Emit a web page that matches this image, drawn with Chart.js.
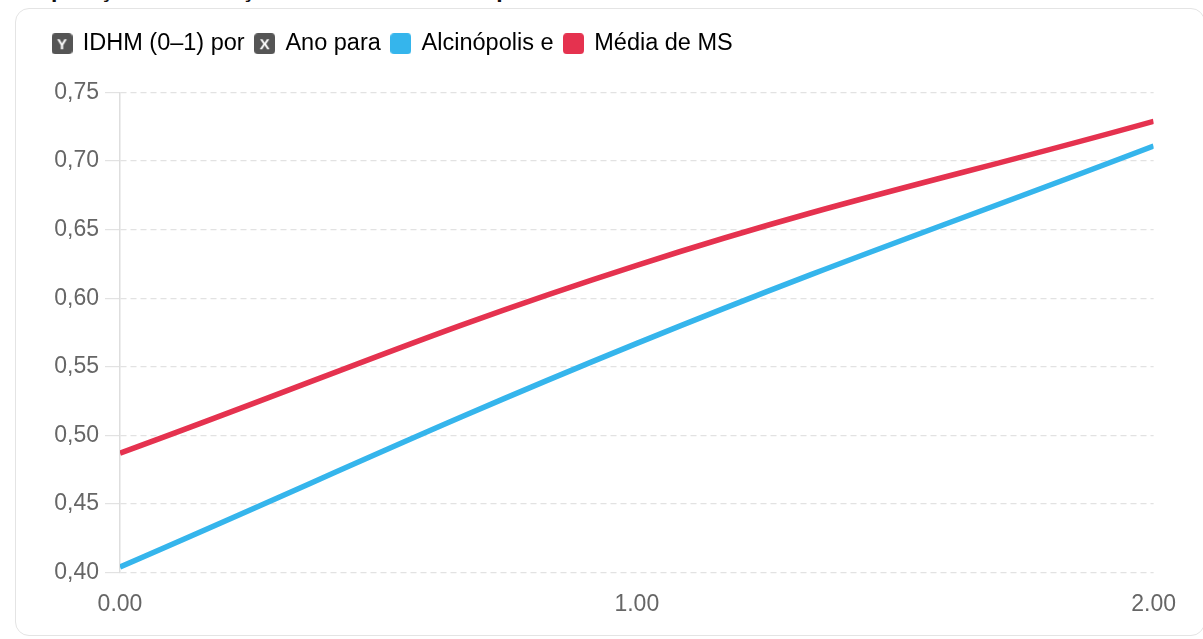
<!DOCTYPE html>
<html lang="pt-BR">
<head>
    <meta charset="UTF-8">
    <title>IDHM - Alcinópolis e MS</title>
    <script src="https://cdn.jsdelivr.net/npm/chart.js"></script>
    <style>
        body { margin: 0; background: #fff; overflow: hidden; }
        .chart-title {
            position: absolute; left: 0; top: -22px; margin: 0;
            font: bold 23px/23px "Liberation Sans", Arial, sans-serif;
            color: #111; white-space: nowrap;
        }
        .card {
            position: absolute; left: 15px; top: 8px; width: 1190px; height: 628px;
            border: 1px solid #e4e4e4; border-radius: 14px; box-sizing: border-box;
        }
        .chart-box { position: absolute; left: 30px; top: 21px; width: 1149px; height: 600px; }
    </style>
</head>
<body>
    <h2 class="chart-title">Comparação da Evolução do IDHM em Alcinópolis e na Média do Estado de MS</h2>
    <div class="card"></div>
    <div class="chart-box"><canvas id="idhmChart"></canvas></div>

    <script>
        // valores do IDHM por período (0, 1, 2)
        const periodos = [0, 1, 2];
        const idhmAlcinopolis = [0.404, 0.567, 0.711];
        const idhmMediaMS = [0.487, 0.624, 0.729];
        const legendaTextos = ['IDHM (0–1) por', 'Ano para', 'Alcinópolis e', 'Média de MS'];
        const yTicks = [0.40, 0.45, 0.50, 0.55, 0.60, 0.65, 0.70, 0.75];

        const corAzul = '#35b5ec';
        const corVermelha = '#e5324f';

        function iconeLegenda(cor, letra) {
            const c = document.createElement('canvas');
            c.width = 21; c.height = 21;
            const g = c.getContext('2d');
            g.fillStyle = cor;
            g.beginPath();
            g.roundRect(0, 0, 21, 21, 4);
            g.fill();
            if (letra) {
                g.fillStyle = '#fff';
                g.font = 'bold 15px "Liberation Sans", Arial, sans-serif';
                g.textAlign = 'center';
                g.textBaseline = 'middle';
                g.fillText(letra, 10.5, 11.5);
            }
            return c;
        }
        const icones = [iconeLegenda('#555', 'Y'), iconeLegenda('#555', 'X'), iconeLegenda(corAzul), iconeLegenda(corVermelha)];

        const fmtBR = new Intl.NumberFormat('pt-BR', { minimumFractionDigits: 2, maximumFractionDigits: 2 });

        // espaço extra abaixo da legenda
        const legendMargin = {
            id: 'legendMargin',
            beforeInit(chart) {
                const fit = chart.legend.fit;
                chart.legend.fit = function () {
                    fit.bind(chart.legend)();
                    this.height += 27;
                };
            }
        };

        const ctx = document.getElementById('idhmChart').getContext('2d');
        const idhmChart = new Chart(ctx, {
            type: 'line',
            data: {
                datasets: [
                    {
                        label: 'Alcinópolis',
                        data: periodos.map((p, i) => ({ x: p, y: idhmAlcinopolis[i] })),
                        borderColor: corAzul,
                        backgroundColor: corAzul,
                        borderWidth: 5.5,
                        pointRadius: 0,
                        tension: 0.4
                    },
                    {
                        label: 'Média de MS',
                        data: periodos.map((p, i) => ({ x: p, y: idhmMediaMS[i] })),
                        borderColor: corVermelha,
                        backgroundColor: corVermelha,
                        borderWidth: 5.5,
                        pointRadius: 0,
                        tension: 0.4
                    }
                ]
            },
            options: {
                responsive: true,
                maintainAspectRatio: false,
                animation: false,
                layout: { padding: { left: 12, right: 0, top: 0, bottom: 0 } },
                plugins: {
                    legend: {
                        display: true,
                        position: 'top',
                        align: 'start',
                        labels: {
                            usePointStyle: true,
                            pointStyleWidth: 18,
                            padding: 11,
                            color: '#3a3a3a',
                            font: { size: 23.5, family: '"Liberation Sans", Arial, sans-serif' },
                            generateLabels: () => legendaTextos.map((t, i) => ({
                                text: t,
                                pointStyle: icones[i],
                                fillStyle: 'transparent',
                                strokeStyle: 'transparent',
                                lineWidth: 0,
                                hidden: false,
                                datasetIndex: i >= 2 ? i - 2 : undefined
                            }))
                        }
                    },
                    tooltip: { enabled: false }
                },
                scales: {
                    x: {
                        type: 'linear',
                        min: 0,
                        max: 2,
                        grid: { display: false, drawTicks: true, tickLength: 15 },
                        border: { display: false },
                        ticks: {
                            stepSize: 1,
                            padding: 3,
                            color: '#666',
                            font: { size: 23 },
                            callback: v => Number(v).toFixed(2)
                        }
                    },
                    y: {
                        min: 0.40,
                        max: 0.75,
                        afterBuildTicks: scale => { scale.ticks = yTicks.map(v => ({ value: v })); },
                        afterFit: scale => { scale.width = 78; },
                        grid: { color: '#e2e2e2', lineWidth: 1.2, tickLength: 15 },
                        border: { display: true, color: '#dedede', width: 1.5, dash: [6, 4] },
                        ticks: {
                            padding: 6,
                            color: '#666',
                            font: { size: 23 },
                            callback: v => fmtBR.format(v)
                        }
                    }
                }
            },
            plugins: [legendMargin]
        });
    </script>
</body>
</html>
